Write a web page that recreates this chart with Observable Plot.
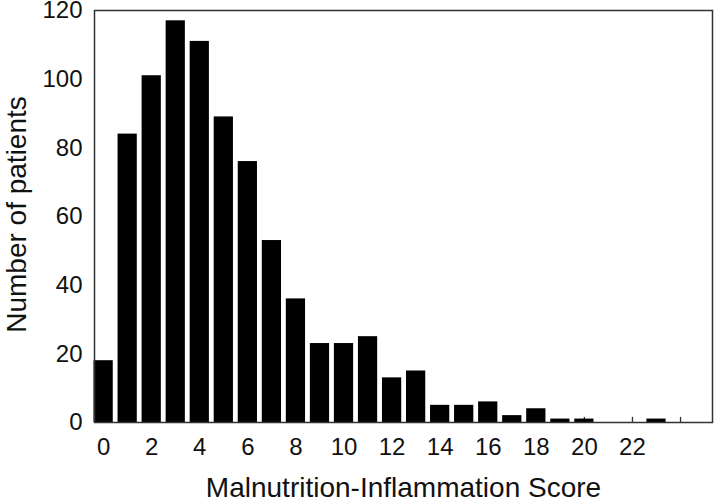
<!DOCTYPE html>
<html>
<head>
<meta charset="utf-8">
<script src="https://cdn.jsdelivr.net/npm/d3@7"></script>
<script src="https://cdn.jsdelivr.net/npm/@observablehq/plot@0.6"></script>
<style>
  html, body { margin: 0; padding: 0; background: #fff; }
  svg { display: block; }
</style>
</head>
<body>
<div id="chart"></div>
<script>
const scores = [0,1,2,3,4,5,6,7,8,9,10,11,12,13,14,15,16,17,18,19,20,21,22,23];
const patients = [18,84,101,117,111,89,76,53,36,23,23,25,13,15,5,5,6,2,4,1,1,0,0,1];
const xTickLabels = [0,2,4,6,8,10,12,14,16,18,20,22];
const xTickMarks = [0,2,4,6,8,10,12,14,16,18,20,22,24];
const yTicks = [0,20,40,60,80,100,120];
const xTitle = "Malnutrition-Inflammation Score";
const yTitle = "Number of patients";

const data = scores.map((s, i) => ({score: s, count: patients[i]})).filter(d => d.count > 0);

const chart = Plot.plot({
  width: 715,
  height: 498,
  marginTop: 10,
  marginBottom: 76,
  marginLeft: 94,
  marginRight: 3,
  style: {fontFamily: "'Liberation Sans', Arial, sans-serif", fontSize: "24px", color: "#111", background: "#fff"},
  x: {domain: [-0.38, 25.33]},
  y: {domain: [0, 120]},
  marks: [
    Plot.ruleX(xTickMarks, {x: d => d, y1: 0, y2: 1.5, stroke: "#333", strokeWidth: 1.3}),
    Plot.rectY(data, {x1: d => d.score - 0.4, x2: d => d.score + 0.4, y1: 0, y2: "count", fill: "#000"}),
    Plot.axisX({ticks: xTickLabels, tickSize: 0, tickPadding: 15, fontSize: 24, label: null, tickFormat: d => String(d)}),
    Plot.axisY({ticks: yTicks, tickSize: 0, tickPadding: 12, fontSize: 24, label: null}),
    Plot.frame({stroke: "#333", strokeWidth: 1.5}),
    Plot.text([xTitle], {frameAnchor: "bottom", dy: 66, textAnchor: "middle", lineAnchor: "middle", fontSize: 28, fill: "#111"}),
    Plot.text([yTitle], {frameAnchor: "left", dx: -77, dy: -2, rotate: -90, textAnchor: "middle", lineAnchor: "middle", fontSize: 28, fill: "#111"})
  ]
});
document.getElementById("chart").appendChild(chart);
</script>
</body>
</html>
